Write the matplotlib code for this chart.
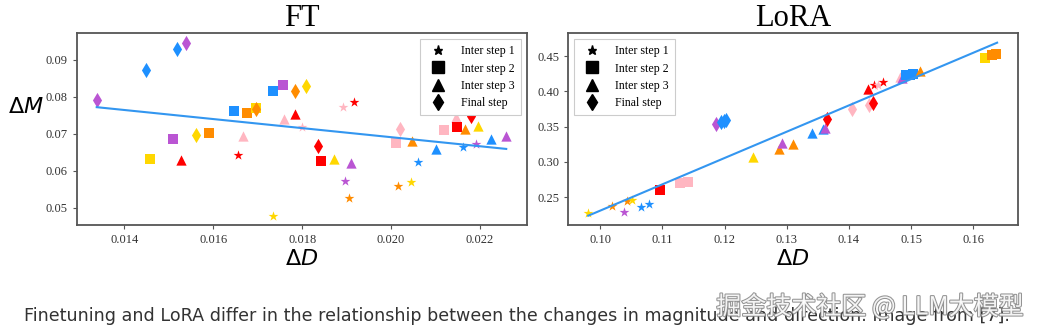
import matplotlib
matplotlib.use("Agg")
import matplotlib.pyplot as plt
import matplotlib.patheffects as pe
from matplotlib.lines import Line2D

# Colour per layer group and marker per training step
palette = {"blue": "#1E90FF", "purple": "#BA55D3", "orange": "#FF8C00",
           "yellow": "#FFD700", "red": "#FF0000", "pink": "#FFB6C1"}
step_markers = {1: "*", 2: "s", 3: "^", 4: "d"}
step_sizes = {1: 55, 2: 50, 3: 55, 4: 60}
step_labels = ["Inter step 1", "Inter step 2", "Inter step 3", "Final step"]

# FT: direction change (dD) vs magnitude change (dM)
ft_dd = [0.01338, 0.01448, 0.01519, 0.01538, 0.01458, 0.01509, 0.01527, 0.01562,
         0.01591, 0.01647, 0.01655, 0.01667, 0.01675, 0.01696, 0.01696, 0.01734,
         0.01757, 0.01760, 0.01735, 0.01785, 0.01785, 0.01809, 0.01799, 0.01891,
         0.01917, 0.01835, 0.01842, 0.01871, 0.01911, 0.01896, 0.01905, 0.02010,
         0.02020, 0.02048, 0.02060, 0.02016, 0.02045, 0.02100, 0.02118, 0.02147,
         0.02148, 0.02179, 0.02166, 0.02196, 0.02162, 0.02190, 0.02224, 0.02258]
ft_dm = [0.0792, 0.0873, 0.0930, 0.0947, 0.0631, 0.0686, 0.0628, 0.0696,
         0.0702, 0.0763, 0.0643, 0.0694, 0.0756, 0.0770, 0.0766, 0.0817,
         0.0831, 0.0741, 0.0477, 0.0815, 0.0753, 0.0830, 0.0719, 0.0772,
         0.0787, 0.0668, 0.0625, 0.0631, 0.0620, 0.0573, 0.0527, 0.0676,
         0.0714, 0.0680, 0.0624, 0.0559, 0.0569, 0.0660, 0.0711, 0.0745,
         0.0719, 0.0748, 0.0714, 0.0722, 0.0664, 0.0673, 0.0687, 0.0694]
ft_color = ["purple", "blue", "blue", "purple", "yellow", "purple", "red", "yellow",
            "orange", "blue", "red", "pink", "orange", "yellow", "orange", "blue",
            "purple", "pink", "yellow", "orange", "red", "yellow", "pink", "pink",
            "red", "red", "red", "yellow", "purple", "purple", "orange", "pink",
            "pink", "orange", "blue", "orange", "yellow", "blue", "pink", "pink",
            "red", "red", "orange", "yellow", "blue", "purple", "blue", "purple"]
ft_step = [4, 4, 4, 4, 2, 2, 3, 4,
           2, 2, 1, 3, 2, 2, 4, 2,
           2, 3, 1, 4, 3, 4, 1, 1,
           1, 4, 2, 3, 3, 1, 1, 2,
           4, 3, 1, 1, 1, 3, 2, 3,
           2, 4, 3, 3, 1, 1, 3, 3]
ft_fit_x = [0.01338, 0.02259]
ft_fit_y = [0.0772, 0.0659]

# LoRA
lora_dd = [0.0981, 0.1019, 0.1038, 0.1044, 0.1051, 0.1066, 0.1079, 0.1096,
           0.1128, 0.1142, 0.1187, 0.1195, 0.1199, 0.1202, 0.1245, 0.1287,
           0.1292, 0.1310, 0.1340, 0.1359, 0.1362, 0.1364, 0.1405, 0.1432,
           0.1439, 0.1431, 0.1440, 0.1447, 0.1455, 0.1482, 0.1485, 0.1492,
           0.1498, 0.1503, 0.1514, 0.1618, 0.1630, 0.1637]
lora_dm = [0.2277, 0.2377, 0.2292, 0.2443, 0.2457, 0.2363, 0.2401, 0.2599,
           0.2694, 0.2717, 0.3535, 0.3565, 0.3582, 0.3592, 0.3072, 0.3185,
           0.3270, 0.3252, 0.3403, 0.3460, 0.3474, 0.3606, 0.3744, 0.3810,
           0.3829, 0.4036, 0.4089, 0.4084, 0.4131, 0.4198, 0.4195, 0.4225,
           0.4230, 0.4240, 0.4292, 0.4467, 0.4520, 0.4528]
lora_color = ["yellow", "orange", "purple", "orange", "yellow", "blue", "blue", "red",
              "pink", "pink", "purple", "blue", "blue", "blue", "yellow", "orange",
              "purple", "orange", "blue", "blue", "purple", "red", "pink", "pink",
              "red", "red", "red", "pink", "red", "pink", "purple", "blue",
              "blue", "blue", "orange", "yellow", "orange", "orange"]
lora_step = [1, 1, 1, 1, 1, 1, 1, 2,
             2, 2, 4, 4, 4, 4, 3, 3,
             3, 3, 3, 3, 3, 4, 4, 4,
             4, 3, 1, 1, 1, 3, 3, 2,
             2, 2, 3, 2, 2, 2]
lora_fit_x = [0.0981, 0.1638]
lora_fit_y = [0.2235, 0.4689]

serif = "Liberation Serif"


def draw_panel(ax, xs, ys, colors, steps, fit_x, fit_y, title, legend_loc):
    for x, y, c, s in zip(xs, ys, colors, steps):
        ax.scatter(x, y, color=palette[c], marker=step_markers[s],
                   s=step_sizes[s], linewidths=0, zorder=3)
    ax.plot(fit_x, fit_y, color="#3396F0", lw=1.5, zorder=4)
    ax.set_title(title, fontsize=22, family=serif, pad=4)
    ax.set_xlabel(r"$\Delta D$", fontsize=16, labelpad=2)
    for sp in ax.spines.values():
        sp.set_color("#555555")
        sp.set_linewidth(1.3)
    ax.tick_params(labelsize=9, colors="#555555", labelcolor="#333333", length=3)
    handles = [Line2D([], [], ls="", marker=step_markers[k], color="black",
                      markersize=ms) for k, ms in zip([1, 2, 3, 4], [6.5, 8, 8, 8.5])]
    leg = ax.legend(handles, step_labels, loc=legend_loc, prop={"family": serif, "size": 8.6},
                    handletextpad=0.9, labelspacing=0.45, borderpad=0.5, framealpha=1,
                    edgecolor="#cccccc", fancybox=False)
    leg.get_frame().set_linewidth(0.8)


fig = plt.figure(figsize=(10.38, 3.31), dpi=100)
ax1 = fig.add_axes([0.0739, 0.3202, 0.4335, 0.5792])
ax2 = fig.add_axes([0.5475, 0.3202, 0.4329, 0.5792])

draw_panel(ax1, ft_dd, ft_dm, ft_color, ft_step, ft_fit_x, ft_fit_y, "FT", "upper right")
ax1.set_xlim(0.01293, 0.02305)
ax1.set_ylim(0.0453, 0.0972)
ax1.set_xticks([0.014, 0.016, 0.018, 0.020, 0.022])
ax1.set_yticks([0.05, 0.06, 0.07, 0.08, 0.09])
ax1.set_ylabel(r"$\Delta M$", fontsize=16, rotation=0, ha="center", va="center")
ax1.yaxis.set_label_coords(-0.112, 0.615)

draw_panel(ax2, lora_dd, lora_dm, lora_color, lora_step, lora_fit_x, lora_fit_y, "LoRA", "upper left")
ax2.set_xlim(0.0949, 0.1671)
ax2.set_ylim(0.2103, 0.4822)
ax2.set_xticks([0.10, 0.11, 0.12, 0.13, 0.14, 0.15, 0.16])
ax2.set_yticks([0.25, 0.30, 0.35, 0.40, 0.45])

for ax in (ax1, ax2):
    for lbl in ax.get_xticklabels() + ax.get_yticklabels():
        lbl.set_family(serif)

fig.text(0.023, 0.045, "Finetuning and LoRA differ in the relationship between the changes "
         "in magnitude and direction. Image from [7].",
         fontsize=12.6, family="DejaVu Sans", color="#333333", va="center")
wm = fig.text(0.986, 0.072, "掘金技术社区 @ LLM大模型", fontsize=18, ha="right", va="center",
              family=["Noto Sans CJK SC", "DejaVu Sans"], color="white", alpha=0.9)
wm.set_path_effects([pe.withStroke(linewidth=1.5, foreground="#888888")])

fig.savefig("out.png", dpi=100)
